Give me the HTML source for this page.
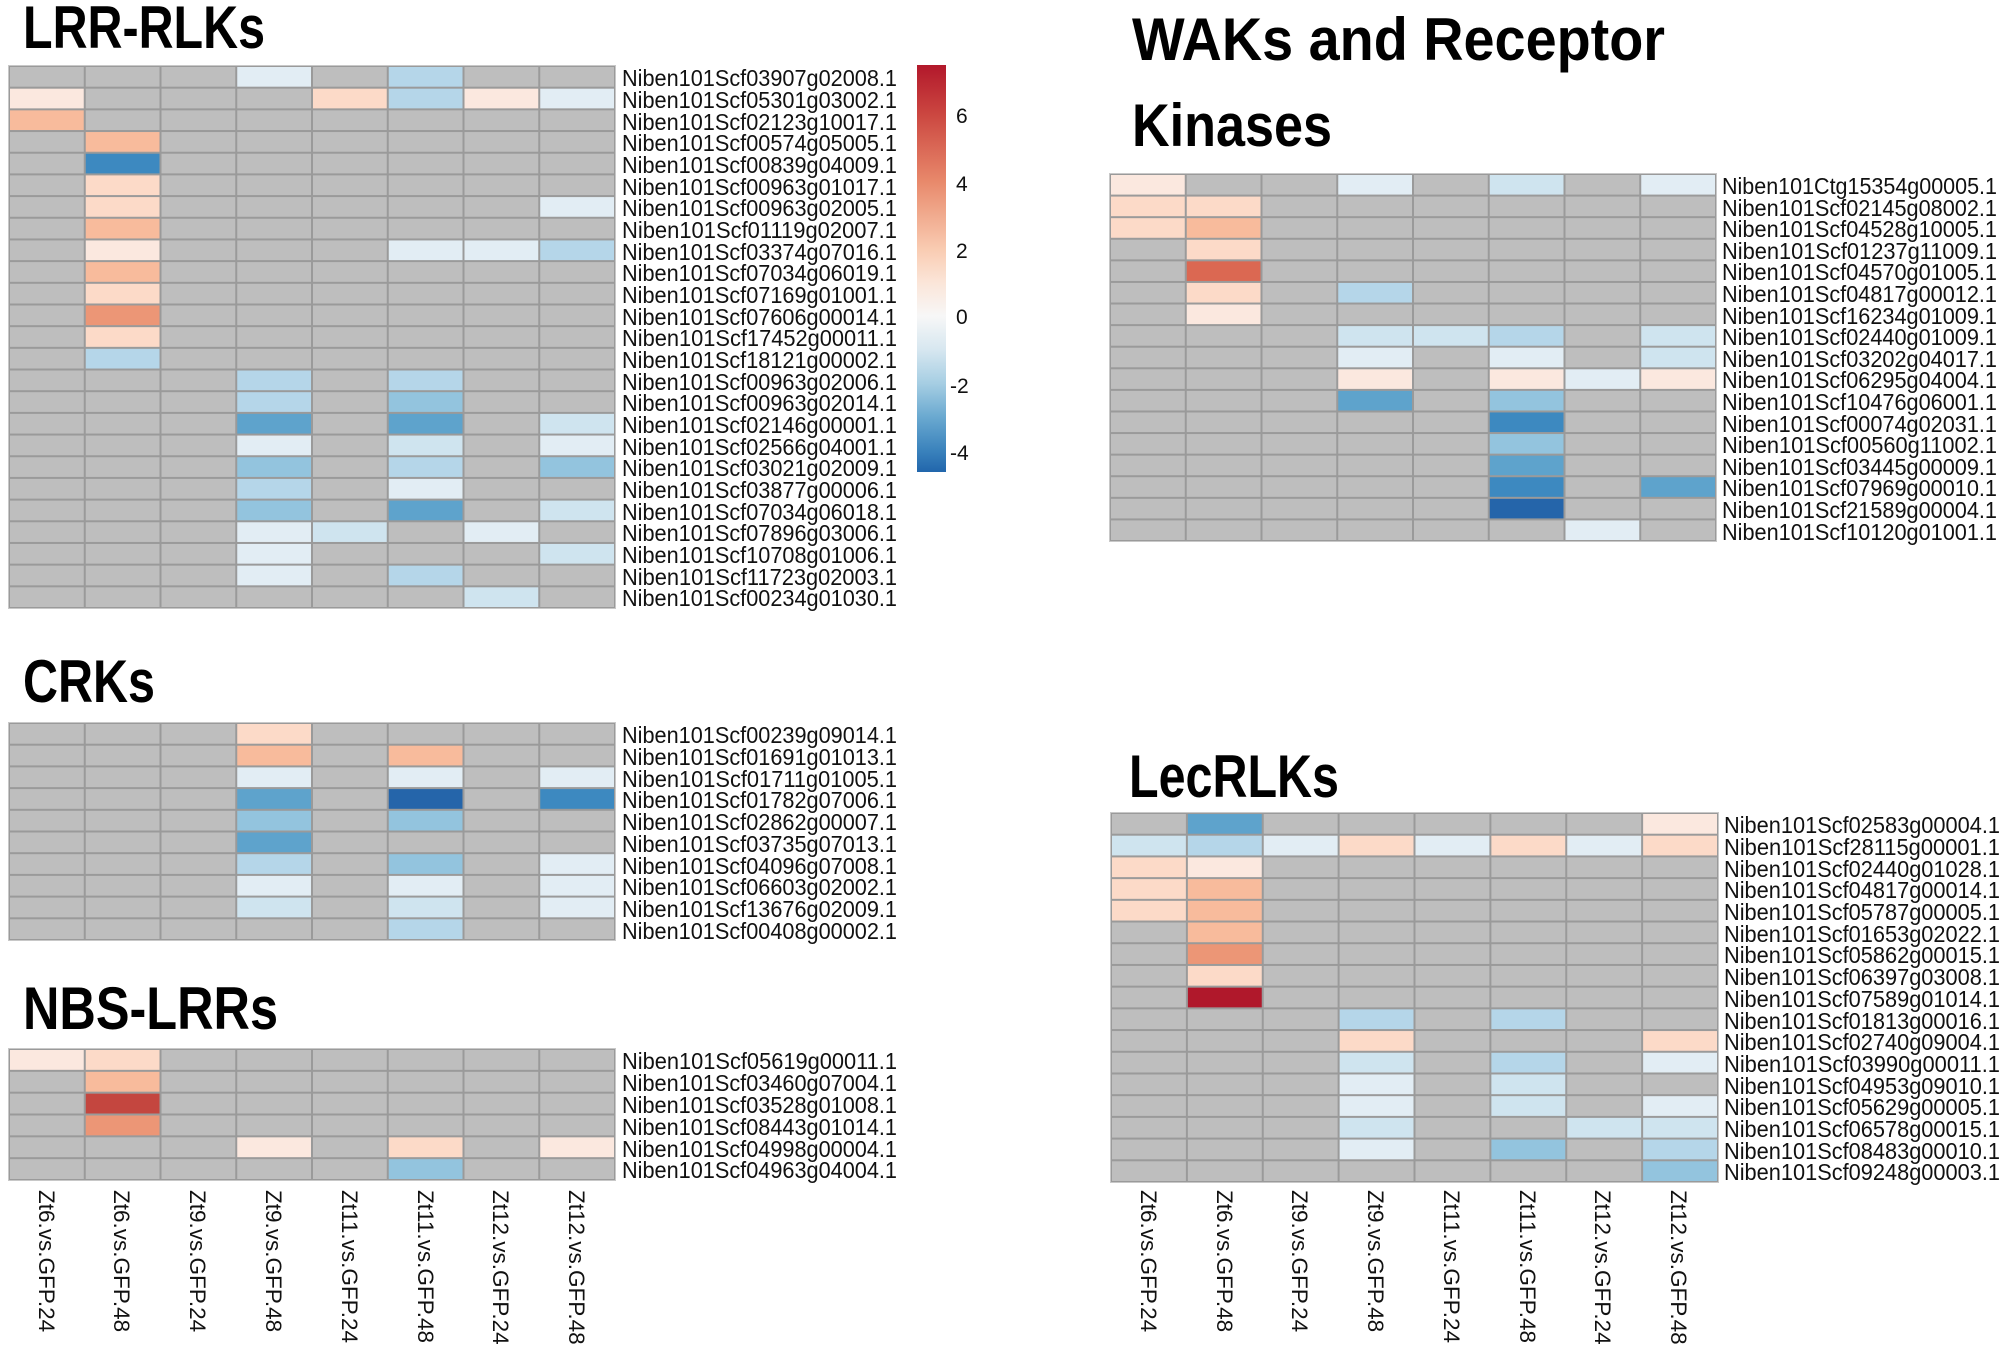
<!DOCTYPE html>
<html><head><meta charset="utf-8"><style>
html,body{margin:0;padding:0;background:#fff;width:2006px;height:1353px;overflow:hidden}
svg{display:block}
.t{font-family:"Liberation Sans",Arial,sans-serif;font-weight:bold;fill:#000}
.l{font-family:"Liberation Sans",Arial,sans-serif;font-size:23px;fill:#111}
.c{font-family:"Liberation Sans",Arial,sans-serif;font-size:21px;fill:#111}
.b{font-family:"Liberation Sans",Arial,sans-serif;font-size:22.5px;fill:#111}
</style></head><body>
<svg id="s" width="2006" height="1353" viewBox="0 0 2006 1353" xmlns="http://www.w3.org/2000/svg">
<defs>
<linearGradient id="cb" x1="0" y1="0" x2="0" y2="1">
<stop offset="0" stop-color="#b2182b"/>
<stop offset="0.12" stop-color="#cb4640"/>
<stop offset="0.286" stop-color="#e8896b"/>
<stop offset="0.451" stop-color="#f9cbb1"/>
<stop offset="0.534" stop-color="#fbe5d8"/>
<stop offset="0.617" stop-color="#f7f7f7"/>
<stop offset="0.699" stop-color="#d7e7f0"/>
<stop offset="0.782" stop-color="#a6cee3"/>
<stop offset="0.865" stop-color="#6aa9d0"/>
<stop offset="0.948" stop-color="#3a82bc"/>
<stop offset="1" stop-color="#2166ac"/>
</linearGradient>
</defs>
<g id="cells"></g>

<text class="t" x="23" y="48" font-size="60" textLength="242" lengthAdjust="spacingAndGlyphs">LRR-RLKs</text>
<text class="t" x="1132" y="60" font-size="60" textLength="533" lengthAdjust="spacingAndGlyphs">WAKs and Receptor</text>
<text class="t" x="1132" y="146" font-size="60" textLength="200" lengthAdjust="spacingAndGlyphs">Kinases</text>
<text class="t" x="23" y="702" font-size="60" textLength="132" lengthAdjust="spacingAndGlyphs">CRKs</text>
<text class="t" x="23" y="1029" font-size="60" textLength="255" lengthAdjust="spacingAndGlyphs">NBS-LRRs</text>
<text class="t" x="1129" y="797" font-size="60" textLength="210" lengthAdjust="spacingAndGlyphs">LecRLKs</text>

<rect x="917" y="65" width="29" height="407" fill="url(#cb)"/>
<text class="c" x="956" y="123">6</text>
<text class="c" x="956" y="191">4</text>
<text class="c" x="956" y="258">2</text>
<text class="c" x="956" y="324">0</text>
<text class="c" x="950" y="393">-2</text>
<text class="c" x="950" y="460">-4</text>

<g class="l">
<text x="622" y="86" textLength="275" lengthAdjust="spacingAndGlyphs">Niben101Scf03907g02008.1</text>
<text x="622" y="108" textLength="275" lengthAdjust="spacingAndGlyphs">Niben101Scf05301g03002.1</text>
<text x="622" y="130" textLength="275" lengthAdjust="spacingAndGlyphs">Niben101Scf02123g10017.1</text>
<text x="622" y="151" textLength="275" lengthAdjust="spacingAndGlyphs">Niben101Scf00574g05005.1</text>
<text x="622" y="173" textLength="275" lengthAdjust="spacingAndGlyphs">Niben101Scf00839g04009.1</text>
<text x="622" y="195" textLength="275" lengthAdjust="spacingAndGlyphs">Niben101Scf00963g01017.1</text>
<text x="622" y="216" textLength="275" lengthAdjust="spacingAndGlyphs">Niben101Scf00963g02005.1</text>
<text x="622" y="238" textLength="275" lengthAdjust="spacingAndGlyphs">Niben101Scf01119g02007.1</text>
<text x="622" y="260" textLength="275" lengthAdjust="spacingAndGlyphs">Niben101Scf03374g07016.1</text>
<text x="622" y="281" textLength="275" lengthAdjust="spacingAndGlyphs">Niben101Scf07034g06019.1</text>
<text x="622" y="303" textLength="275" lengthAdjust="spacingAndGlyphs">Niben101Scf07169g01001.1</text>
<text x="622" y="325" textLength="275" lengthAdjust="spacingAndGlyphs">Niben101Scf07606g00014.1</text>
<text x="622" y="346" textLength="275" lengthAdjust="spacingAndGlyphs">Niben101Scf17452g00011.1</text>
<text x="622" y="368" textLength="275" lengthAdjust="spacingAndGlyphs">Niben101Scf18121g00002.1</text>
<text x="622" y="390" textLength="275" lengthAdjust="spacingAndGlyphs">Niben101Scf00963g02006.1</text>
<text x="622" y="411" textLength="275" lengthAdjust="spacingAndGlyphs">Niben101Scf00963g02014.1</text>
<text x="622" y="433" textLength="275" lengthAdjust="spacingAndGlyphs">Niben101Scf02146g00001.1</text>
<text x="622" y="455" textLength="275" lengthAdjust="spacingAndGlyphs">Niben101Scf02566g04001.1</text>
<text x="622" y="476" textLength="275" lengthAdjust="spacingAndGlyphs">Niben101Scf03021g02009.1</text>
<text x="622" y="498" textLength="275" lengthAdjust="spacingAndGlyphs">Niben101Scf03877g00006.1</text>
<text x="622" y="520" textLength="275" lengthAdjust="spacingAndGlyphs">Niben101Scf07034g06018.1</text>
<text x="622" y="541" textLength="275" lengthAdjust="spacingAndGlyphs">Niben101Scf07896g03006.1</text>
<text x="622" y="563" textLength="275" lengthAdjust="spacingAndGlyphs">Niben101Scf10708g01006.1</text>
<text x="622" y="585" textLength="275" lengthAdjust="spacingAndGlyphs">Niben101Scf11723g02003.1</text>
<text x="622" y="606" textLength="275" lengthAdjust="spacingAndGlyphs">Niben101Scf00234g01030.1</text>
</g>

<g class="l">
<text x="1722" y="194" textLength="275" lengthAdjust="spacingAndGlyphs">Niben101Ctg15354g00005.1</text>
<text x="1722" y="216" textLength="275" lengthAdjust="spacingAndGlyphs">Niben101Scf02145g08002.1</text>
<text x="1722" y="237" textLength="275" lengthAdjust="spacingAndGlyphs">Niben101Scf04528g10005.1</text>
<text x="1722" y="259" textLength="275" lengthAdjust="spacingAndGlyphs">Niben101Scf01237g11009.1</text>
<text x="1722" y="280" textLength="275" lengthAdjust="spacingAndGlyphs">Niben101Scf04570g01005.1</text>
<text x="1722" y="302" textLength="275" lengthAdjust="spacingAndGlyphs">Niben101Scf04817g00012.1</text>
<text x="1722" y="324" textLength="275" lengthAdjust="spacingAndGlyphs">Niben101Scf16234g01009.1</text>
<text x="1722" y="345" textLength="275" lengthAdjust="spacingAndGlyphs">Niben101Scf02440g01009.1</text>
<text x="1722" y="367" textLength="275" lengthAdjust="spacingAndGlyphs">Niben101Scf03202g04017.1</text>
<text x="1722" y="388" textLength="275" lengthAdjust="spacingAndGlyphs">Niben101Scf06295g04004.1</text>
<text x="1722" y="410" textLength="275" lengthAdjust="spacingAndGlyphs">Niben101Scf10476g06001.1</text>
<text x="1722" y="432" textLength="275" lengthAdjust="spacingAndGlyphs">Niben101Scf00074g02031.1</text>
<text x="1722" y="453" textLength="275" lengthAdjust="spacingAndGlyphs">Niben101Scf00560g11002.1</text>
<text x="1722" y="475" textLength="275" lengthAdjust="spacingAndGlyphs">Niben101Scf03445g00009.1</text>
<text x="1722" y="496" textLength="275" lengthAdjust="spacingAndGlyphs">Niben101Scf07969g00010.1</text>
<text x="1722" y="518" textLength="275" lengthAdjust="spacingAndGlyphs">Niben101Scf21589g00004.1</text>
<text x="1722" y="540" textLength="275" lengthAdjust="spacingAndGlyphs">Niben101Scf10120g01001.1</text>
</g>

<g class="l">
<text x="622" y="743" textLength="275" lengthAdjust="spacingAndGlyphs">Niben101Scf00239g09014.1</text>
<text x="622" y="765" textLength="275" lengthAdjust="spacingAndGlyphs">Niben101Scf01691g01013.1</text>
<text x="622" y="787" textLength="275" lengthAdjust="spacingAndGlyphs">Niben101Scf01711g01005.1</text>
<text x="622" y="808" textLength="275" lengthAdjust="spacingAndGlyphs">Niben101Scf01782g07006.1</text>
<text x="622" y="830" textLength="275" lengthAdjust="spacingAndGlyphs">Niben101Scf02862g00007.1</text>
<text x="622" y="852" textLength="275" lengthAdjust="spacingAndGlyphs">Niben101Scf03735g07013.1</text>
<text x="622" y="874" textLength="275" lengthAdjust="spacingAndGlyphs">Niben101Scf04096g07008.1</text>
<text x="622" y="895" textLength="275" lengthAdjust="spacingAndGlyphs">Niben101Scf06603g02002.1</text>
<text x="622" y="917" textLength="275" lengthAdjust="spacingAndGlyphs">Niben101Scf13676g02009.1</text>
<text x="622" y="939" textLength="275" lengthAdjust="spacingAndGlyphs">Niben101Scf00408g00002.1</text>
</g>

<g class="l">
<text x="622" y="1069" textLength="275" lengthAdjust="spacingAndGlyphs">Niben101Scf05619g00011.1</text>
<text x="622" y="1091" textLength="275" lengthAdjust="spacingAndGlyphs">Niben101Scf03460g07004.1</text>
<text x="622" y="1113" textLength="275" lengthAdjust="spacingAndGlyphs">Niben101Scf03528g01008.1</text>
<text x="622" y="1135" textLength="275" lengthAdjust="spacingAndGlyphs">Niben101Scf08443g01014.1</text>
<text x="622" y="1157" textLength="275" lengthAdjust="spacingAndGlyphs">Niben101Scf04998g00004.1</text>
<text x="622" y="1178" textLength="275" lengthAdjust="spacingAndGlyphs">Niben101Scf04963g04004.1</text>
</g>

<g class="l">
<text x="1724" y="833" textLength="276" lengthAdjust="spacingAndGlyphs">Niben101Scf02583g00004.1</text>
<text x="1724" y="855" textLength="276" lengthAdjust="spacingAndGlyphs">Niben101Scf28115g00001.1</text>
<text x="1724" y="877" textLength="276" lengthAdjust="spacingAndGlyphs">Niben101Scf02440g01028.1</text>
<text x="1724" y="898" textLength="276" lengthAdjust="spacingAndGlyphs">Niben101Scf04817g00014.1</text>
<text x="1724" y="920" textLength="276" lengthAdjust="spacingAndGlyphs">Niben101Scf05787g00005.1</text>
<text x="1724" y="942" textLength="276" lengthAdjust="spacingAndGlyphs">Niben101Scf01653g02022.1</text>
<text x="1724" y="963" textLength="276" lengthAdjust="spacingAndGlyphs">Niben101Scf05862g00015.1</text>
<text x="1724" y="985" textLength="276" lengthAdjust="spacingAndGlyphs">Niben101Scf06397g03008.1</text>
<text x="1724" y="1007" textLength="276" lengthAdjust="spacingAndGlyphs">Niben101Scf07589g01014.1</text>
<text x="1724" y="1029" textLength="276" lengthAdjust="spacingAndGlyphs">Niben101Scf01813g00016.1</text>
<text x="1724" y="1050" textLength="276" lengthAdjust="spacingAndGlyphs">Niben101Scf02740g09004.1</text>
<text x="1724" y="1072" textLength="276" lengthAdjust="spacingAndGlyphs">Niben101Scf03990g00011.1</text>
<text x="1724" y="1094" textLength="276" lengthAdjust="spacingAndGlyphs">Niben101Scf04953g09010.1</text>
<text x="1724" y="1115" textLength="276" lengthAdjust="spacingAndGlyphs">Niben101Scf05629g00005.1</text>
<text x="1724" y="1137" textLength="276" lengthAdjust="spacingAndGlyphs">Niben101Scf06578g00015.1</text>
<text x="1724" y="1159" textLength="276" lengthAdjust="spacingAndGlyphs">Niben101Scf08483g00010.1</text>
<text x="1724" y="1180" textLength="276" lengthAdjust="spacingAndGlyphs">Niben101Scf09248g00003.1</text>
</g>

<g class="b">
<text transform="translate(39,1190) rotate(90)">Zt6.vs.GFP.24</text>
<text transform="translate(114,1190) rotate(90)">Zt6.vs.GFP.48</text>
<text transform="translate(190,1190) rotate(90)">Zt9.vs.GFP.24</text>
<text transform="translate(266,1190) rotate(90)">Zt9.vs.GFP.48</text>
<text transform="translate(342,1190) rotate(90)">Zt11.vs.GFP.24</text>
<text transform="translate(418,1190) rotate(90)">Zt11.vs.GFP.48</text>
<text transform="translate(493,1190) rotate(90)">Zt12.vs.GFP.24</text>
<text transform="translate(569,1190) rotate(90)">Zt12.vs.GFP.48</text>
</g>
<g class="b">
<text transform="translate(1141,1190) rotate(90)">Zt6.vs.GFP.24</text>
<text transform="translate(1217,1190) rotate(90)">Zt6.vs.GFP.48</text>
<text transform="translate(1292,1190) rotate(90)">Zt9.vs.GFP.24</text>
<text transform="translate(1368,1190) rotate(90)">Zt9.vs.GFP.48</text>
<text transform="translate(1444,1190) rotate(90)">Zt11.vs.GFP.24</text>
<text transform="translate(1520,1190) rotate(90)">Zt11.vs.GFP.48</text>
<text transform="translate(1595,1190) rotate(90)">Zt12.vs.GFP.24</text>
<text transform="translate(1671,1190) rotate(90)">Zt12.vs.GFP.48</text>
</g>
</svg>
<script>
var C={g:"#bebebe",a:"#fbe8df",b:"#fcdac8",c:"#f8bb9c",d:"#ec9676",e:"#db6852",f:"#c4463f",F:"#b0182b",
"1":"#e2edf4","2":"#cfe4ef","3":"#b5d6e9","4":"#93c4de","5":"#5ea3cc","6":"#3d89c0","7":"#2565aa"};
var maps=[
 {x:9,y:66,w:606,h:542,rows:["ggg1g3gg","agggb3a1","cggggggg","gcgggggg","g6gggggg","gbgggggg","gbggggg1","gcgggggg","gaggg113","gcgggggg","gbgggggg","gdgggggg","gbgggggg","g3gggggg","ggg3g3gg","ggg3g4gg","ggg5g5g2","ggg1g2g1","ggg4g3g4","ggg3g1gg","ggg4g5g2","ggg12g1g","ggg1ggg2","ggg1g3gg","gggggg2g"]},
 {x:1110,y:174,w:606,h:367,rows:["agg1g2g1","bbgggggg","bcgggggg","gbgggggg","gegggggg","gbg3gggg","gagggggg","ggg223g2","ggg1g1g2","gggaga1a","ggg5g4gg","ggggg6gg","ggggg4gg","ggggg5gg","ggggg6g5","ggggg7gg","gggggg1g"]},
 {x:9,y:723,w:606,h:217,rows:["gggbgggg","gggcgcgg","ggg1g1g1","ggg5g7g6","ggg4g4gg","ggg5gggg","ggg3g4g1","ggg1g1g1","ggg2g2g1","ggggg3gg"]},
 {x:9,y:1049,w:606,h:131,rows:["abgggggg","gcgggggg","gfgggggg","gdgggggg","gggagbga","ggggg4gg"]},
 {x:1111,y:813,w:607,h:369,rows:["g5ggggga","231b1b1b","bagggggg","bcgggggg","bcgggggg","gcgggggg","gdgggggg","gbgggggg","gFgggggg","ggg3g3gg","gggbgggb","ggg2g3g1","ggg1g2gg","ggg1g2g1","ggg2gg22","ggg1g4g3","ggggggg4"]}
];
var g=document.getElementById("cells"),ns="http://www.w3.org/2000/svg";
function R(x,y,w,h,f){var r=document.createElementNS(ns,"rect");r.setAttribute("x",x);r.setAttribute("y",y);r.setAttribute("width",w);r.setAttribute("height",h);r.setAttribute("fill",f);g.appendChild(r);}
maps.forEach(function(m){
 var n=m.rows.length,cw=m.w/8,rh=m.h/n;
 R(m.x-1,m.y-1,m.w+2,m.h+2,"#c8c8c8");
 R(m.x,m.y,m.w,m.h,"#9a9a9a");
 for(var i=0;i<n;i++)for(var j=0;j<8;j++){
  var k=m.rows[i][j];
  R(m.x+j*cw+1,m.y+i*rh+1,cw-2,rh-2,C[k]);
 }
});
</script>
</body></html>
